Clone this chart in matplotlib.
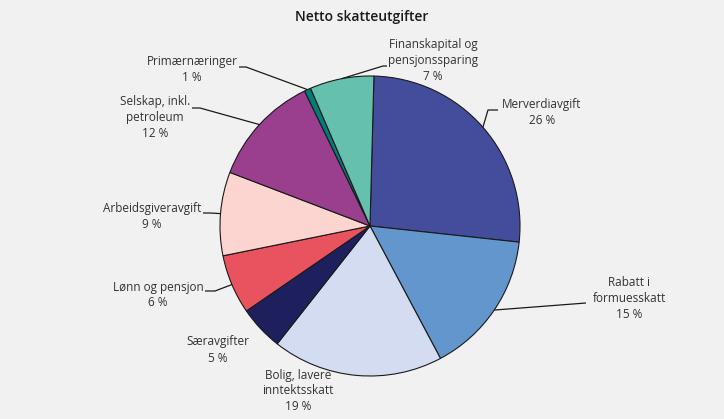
import matplotlib.pyplot as plt
import numpy as np

# data (clockwise from top)
categories = ['Merverdiavgift', 'Rabatt i\nformuesskatt', 'Bolig, lavere\ninntektsskatt',
              'Særavgifter', 'Lønn og pensjon', 'Arbeidsgiveravgift',
              'Selskap, inkl.\npetroleum', 'Primærnæringer', 'Finanskapital og\npensjonssparing']
shares = [26.3, 15.5, 18.4, 4.8, 6.4, 9.0, 12.0, 0.7, 6.9]
label_pct = [26, 15, 19, 5, 6, 9, 12, 1, 7]
colors = ['#434d9c', '#6396cd', '#d4dcf1', '#1e1f5d', '#e9535f',
          '#fcd5d0', '#9a3e8e', '#007e7b', '#66c0ae']

W, H = 724, 419
bg = '#f1f1f1'
txt = '#333333'
plt.rcParams['font.family'] = ['Open Sans', 'DejaVu Sans']

fig = plt.figure(figsize=(W / 100, H / 100), dpi=100, facecolor=bg)
ax = fig.add_axes([0, 0, 1, 1])
ax.set_facecolor(bg)

cx, cy, r = 370, H - 226, 150
wedges, _ = ax.pie(shares, colors=colors, startangle=88.5, counterclock=False,
                   center=(cx, cy), radius=r,
                   wedgeprops=dict(edgecolor='#1a1a1a', linewidth=0.8))
ax.set_xlim(0, W)
ax.set_ylim(0, H)
ax.set_aspect('equal')
ax.axis('off')

# label layout in pixel coords (top-left origin): text centre, leader elbow, leader end
layout = [
    ((542, 112), (488, 110), (498, 110)),
    ((629, 298), (586, 303), (586, 303)),
    ((298, 391), None, None),
    ((218, 350), None, None),
    ((158, 295), (215, 291), (205, 291)),
    ((152, 216), (210, 213), (203, 213)),
    ((155, 117), (200, 108), (192, 108)),
    ((192, 69), (246, 67), (239, 67)),
    ((433, 60), (383, 66), (387, 66)),
]

for w, cat, pct, (tpos, elbow, end) in zip(wedges, categories, label_pct, layout):
    ax.text(tpos[0], H - tpos[1], f'{cat}\n{pct} %', ha='center', va='center',
            fontsize=8.5, color=txt, linespacing=1.3)
    if elbow is not None:
        mid = np.deg2rad((w.theta1 + w.theta2) / 2)
        ex, ey = cx + r * np.cos(mid), cy + r * np.sin(mid)
        ax.plot([ex, elbow[0], end[0]], [ey, H - elbow[1], H - end[1]],
                color='#1a1a1a', lw=0.9, solid_capstyle='butt')

ax.text(W / 2, H - 17, 'Netto skatteutgifter', ha='center', va='center',
        fontsize=10, fontweight='semibold', color='#1a1a1a')

fig.savefig('out.png', dpi=100, facecolor=bg)
